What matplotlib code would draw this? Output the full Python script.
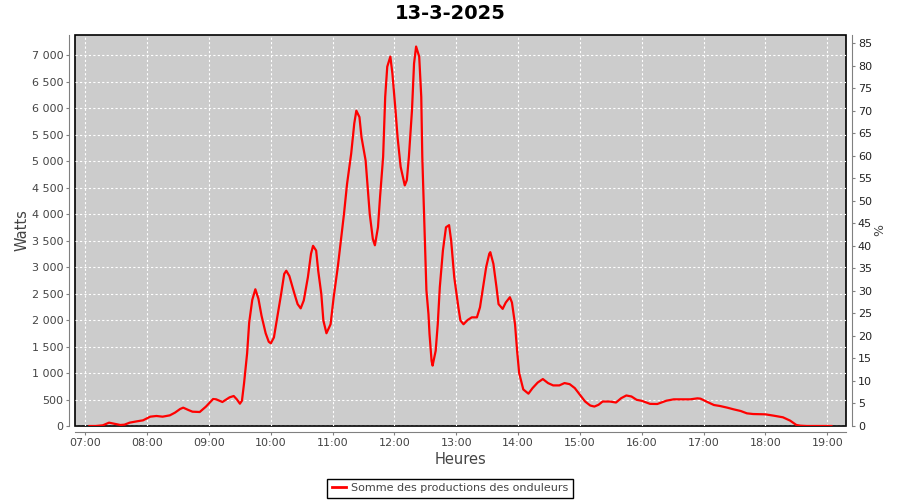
import matplotlib
matplotlib.use('Agg')
import matplotlib.pyplot as plt
from matplotlib.ticker import FuncFormatter, MultipleLocator
from matplotlib.lines import Line2D

title = '13-3-2025'
series_name = 'Somme des productions des onduleurs'

# lecture de la courbe (heure, watts)
heures = ['07:04', '07:10', '07:17', '07:23', '07:29', '07:34', '07:38', '07:43', '07:50', '07:56',
          '08:03', '08:09', '08:15', '08:22', '08:27', '08:32', '08:35', '08:40', '08:44', '08:51',
          '08:57', '09:04', '09:07', '09:13', '09:20', '09:24', '09:27', '09:30', '09:32', '09:34',
          '09:37', '09:39', '09:42', '09:45', '09:48', '09:51', '09:55', '09:58', '10:00', '10:03',
          '10:06', '10:10', '10:13', '10:15', '10:18', '10:23', '10:26', '10:29', '10:32', '10:36',
          '10:39', '10:41', '10:44', '10:46', '10:49', '10:51', '10:54', '10:58', '11:01', '11:05',
          '11:08', '11:11', '11:14', '11:18', '11:21', '11:23', '11:26', '11:28', '11:32', '11:34',
          '11:36', '11:39', '11:41', '11:44', '11:46', '11:49', '11:51', '11:53', '11:56', '11:58',
          '12:01', '12:03', '12:06', '12:10', '12:12', '12:14', '12:17', '12:19', '12:21', '12:24',
          '12:26', '12:27', '12:28', '12:29', '12:30', '12:31', '12:33', '12:34', '12:36', '12:37',
          '12:40', '12:42', '12:44', '12:47', '12:50', '12:53', '12:55', '12:58', '13:02', '13:04',
          '13:07', '13:11', '13:15', '13:20', '13:23', '13:26', '13:29', '13:32', '13:33', '13:36',
          '13:39', '13:41', '13:45', '13:48', '13:52', '13:54', '13:57', '13:59', '14:01', '14:05',
          '14:10', '14:14', '14:19', '14:24', '14:29', '14:34', '14:40', '14:45', '14:50', '14:55',
          '15:00', '15:05', '15:10', '15:14', '15:18', '15:22', '15:29', '15:35', '15:40', '15:45',
          '15:50', '15:55', '16:00', '16:08', '16:15', '16:24', '16:31', '16:47', '16:54', '16:57',
          '17:03', '17:10', '17:16', '17:23', '17:29', '17:36', '17:42', '17:48', '18:00', '18:08',
          '18:17', '18:24', '18:30', '18:34', '18:40', '19:04']
watts = [0, 0, 13, 63, 38, 19, 25, 63, 88, 107,
         176, 189, 176, 201, 252, 321, 346, 302, 270, 264,
         365, 509, 503, 453, 541, 566, 503, 421, 478, 800,
         1370, 1950, 2380, 2580, 2400, 2080, 1750, 1590, 1560, 1670,
         2020, 2490, 2870, 2930, 2830, 2490, 2300, 2220, 2370, 2810,
         3250, 3400, 3310, 2930, 2490, 1990, 1750, 1920, 2430, 3000,
         3500, 4000, 4570, 5140, 5710, 5950, 5830, 5450, 5010, 4510,
         4000, 3530, 3410, 3750, 4320, 5080, 6210, 6780, 6970, 6650,
         5960, 5450, 4890, 4540, 4640, 5080, 5960, 6840, 7160, 6970,
         6210, 5080, 4450, 3820, 3190, 2560, 2110, 1740, 1230, 1140,
         1420, 1920, 2620, 3310, 3750, 3790, 3500, 2810, 2240, 1990,
         1920, 2000, 2050, 2050, 2240, 2620, 3000, 3250, 3280, 3060,
         2620, 2300, 2210, 2330, 2430, 2330, 1920, 1420, 1000, 690,
         610, 715, 820, 886, 810, 766, 766, 810, 790, 715,
         590, 462, 386, 367, 400, 462, 462, 443, 525, 576,
         557, 494, 475, 418, 415, 478, 503, 503, 522, 516,
         459, 396, 377, 346, 315, 283, 239, 226, 220, 195,
         164, 101, 19, 6, 0, 0]

x_ticks = ['07:00', '08:00', '09:00', '10:00', '11:00', '12:00', '13:00',
           '14:00', '15:00', '16:00', '17:00', '18:00', '19:00']


def to_hours(s):
    h, m = s.split(':')
    return int(h) + int(m) / 60.0


def thousands(v, pos):
    return f'{int(round(v)):,}'.replace(',', ' ')


t = [to_hours(h) for h in heures]
tick_pos = [to_hours(h) for h in x_ticks]

fig = plt.figure(figsize=(9, 5), dpi=100)
ax = fig.add_axes([75 / 900, 74 / 500, 771 / 900, 391 / 500])
ax.set_facecolor('#cccccc')
ax.patch.set_edgecolor('black')
ax.patch.set_linewidth(1.2)

ax.plot(t, watts, color='red', linewidth=1.6, zorder=3)

ax.set_xlim(6.833, 19.303)
ax.set_ylim(0, 7378)
ax.set_xticks(tick_pos)
ax.set_xticklabels(x_ticks)
ax.yaxis.set_major_locator(MultipleLocator(500))
ax.yaxis.set_major_formatter(FuncFormatter(thousands))
ax.grid(True, color='white', linestyle=(0, (2, 2)), linewidth=0.8)
ax.set_axisbelow(True)

for side in ['top', 'right']:
    ax.spines[side].set_visible(False)
for side in ['left', 'bottom']:
    ax.spines[side].set_position(('outward', 4))
    ax.spines[side].set_color('#808080')
ax.tick_params(colors='#808080', labelcolor='#444444', labelsize=8, length=2.5, width=0.8, pad=2)

ax2 = ax.twinx()
ax2.set_ylim(0, 86.8)
ax2.yaxis.set_major_locator(MultipleLocator(5))
for side in ['top', 'left', 'bottom']:
    ax2.spines[side].set_visible(False)
ax2.spines['right'].set_position(('outward', 4))
ax2.spines['right'].set_color('#808080')
ax2.tick_params(colors='#808080', labelcolor='#222222', labelsize=8, length=2.5, width=0.8, pad=2)

fig.text(0.5, 0.9726, title, ha='center', va='center', fontsize=14, fontweight='bold')
fig.text(0.024, 0.54, 'Watts', ha='center', va='center', rotation=90, fontsize=10.5, color='#444444')
fig.text(0.5117, 0.08, 'Heures', ha='center', va='center', fontsize=10.5, color='#444444')
fig.text(0.978, 0.54, '%', ha='center', va='center', rotation=90, fontsize=9, color='#444444')

handle = Line2D([], [], color='red', linewidth=2)
leg = fig.legend([handle], [series_name], loc='lower center', bbox_to_anchor=(0.5, 0.0),
                 fontsize=8, frameon=True, fancybox=False, framealpha=1, edgecolor='black',
                 handlelength=1.3, handletextpad=0.4, borderpad=0.4, borderaxespad=0.2)
leg.get_frame().set_linewidth(1)
for txt in leg.get_texts():
    txt.set_color('#444444')

fig.savefig('out.png', dpi=100)
